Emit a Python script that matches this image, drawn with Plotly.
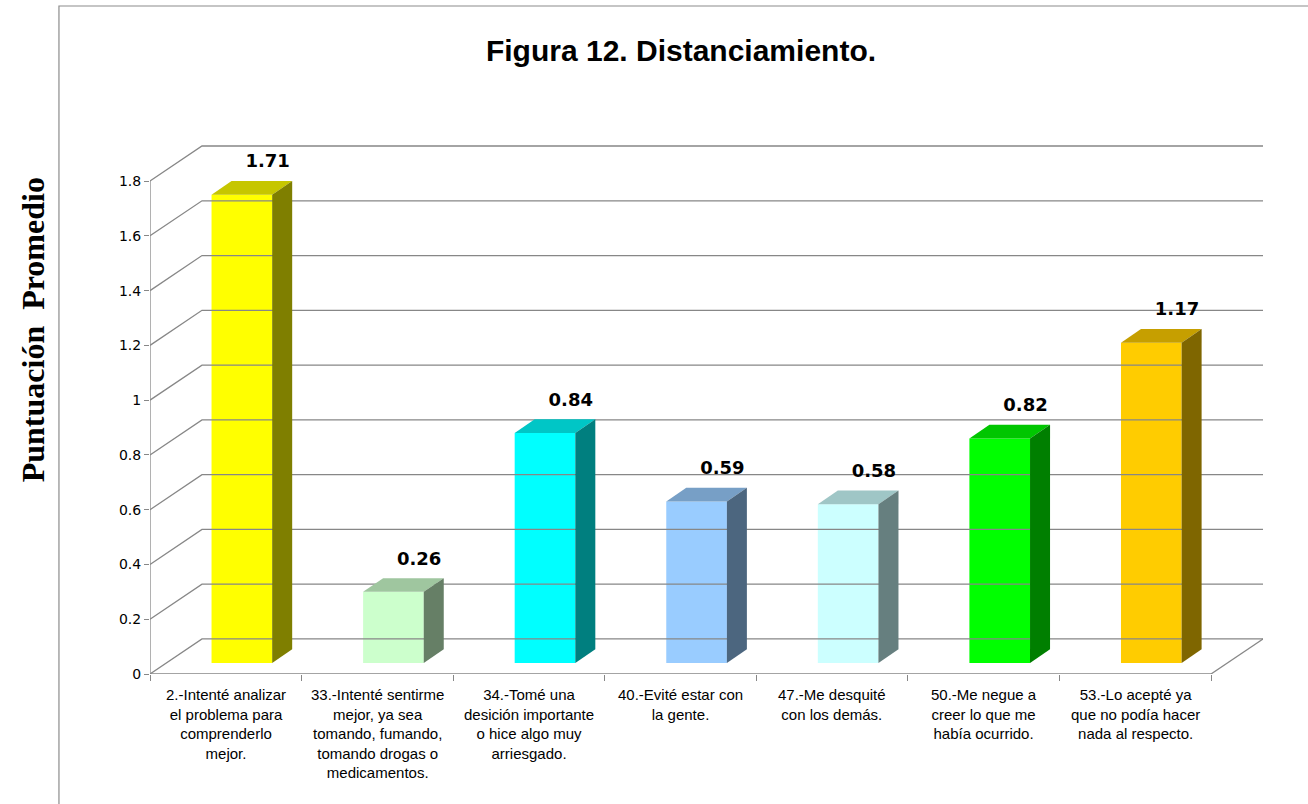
import plotly.graph_objects as go

# ---- data -------------------------------------------------------------
categories = [
    "2.-Intenté analizar<br>el problema para<br>comprenderlo<br>mejor.",
    "33.-Intenté sentirme<br>mejor, ya sea<br>tomando, fumando,<br>tomando drogas o<br>medicamentos.",
    "34.-Tomé una<br>desición importante<br>o hice algo muy<br>arriesgado.",
    "40.-Evité estar con<br>la gente.",
    "47.-Me desquité<br>con los demás.",
    "50.-Me negue a<br>creer lo que me<br>había ocurrido.",
    "53.-Lo acepté ya<br>que no podía hacer<br>nada al respecto.",
]
scores = [1.71, 0.26, 0.84, 0.59, 0.58, 0.82, 1.17]
y_ticks = [0, 0.2, 0.4, 0.6, 0.8, 1.0, 1.2, 1.4, 1.6, 1.8]
y_tick_text = ["0", "0.2", "0.4", "0.6", "0.8", "1", "1.2", "1.4", "1.6", "1.8"]

# ---- style ------------------------------------------------------------
bar_colors = ["#FFFF00", "#CCFFCC", "#00FFFF", "#99CCFF", "#CCFFFF", "#00FF00", "#FFCC00"]
GRID = "#878787"

# pseudo-3D projection, expressed in axis units
WALL_DX, WALL_DY = 0.343, 0.128   # depth of floor and side wall
BAR_FX, BAR_FY = 0.106, 0.040     # bar front face set back from the front edge
BAR_DX, BAR_DY = 0.132, 0.050     # depth of each bar
BAR_W = 0.40


def shade(hex_color, k):
    h = hex_color.lstrip("#")
    r, g, b = (int(h[i:i + 2], 16) for i in (0, 2, 4))
    return "rgb({},{},{})".format(int(r * k), int(g * k), int(b * k))


n = len(categories)
y_top = y_ticks[-1]

fig = go.Figure()

# back wall gridlines with the diagonals on the left wall
gx, gy = [], []
for t in y_ticks:
    gx += [0, WALL_DX, n + WALL_DX, None]
    gy += [t, t + WALL_DY, t + WALL_DY, None]
# right edge of the floor
gx += [n, n + WALL_DX, None]
gy += [0, WALL_DY, None]
# front value axis and front floor edge
gx += [0, 0, n]
gy += [y_top, 0, 0]
fig.add_trace(go.Scatter(x=gx, y=gy, mode="lines",
                         line=dict(color=GRID, width=1.3),
                         hoverinfo="skip", showlegend=False))

# top and side faces of every bar
for i, (v, c) in enumerate(zip(scores, bar_colors)):
    xc = i + 0.5 + BAR_FX
    x0, x1 = xc - BAR_W / 2, xc + BAR_W / 2
    yb, yt = BAR_FY, BAR_FY + v
    fig.add_trace(go.Scatter(
        x=[x0, x1, x1 + BAR_DX, x0 + BAR_DX, x0],
        y=[yt, yt, yt + BAR_DY, yt + BAR_DY, yt],
        mode="lines", fill="toself", fillcolor=shade(c, 0.78),
        line=dict(width=0), hoverinfo="skip", showlegend=False))
    fig.add_trace(go.Scatter(
        x=[x1, x1 + BAR_DX, x1 + BAR_DX, x1, x1],
        y=[yb, yb + BAR_DY, yt + BAR_DY, yt, yb],
        mode="lines", fill="toself", fillcolor=shade(c, 0.5),
        line=dict(width=0), hoverinfo="skip", showlegend=False))

# value labels above the bars
fig.add_trace(go.Scatter(
    x=[i + 0.5 + BAR_FX + 0.17 for i in range(n)],
    y=[v + BAR_FY + BAR_DY + 0.066 for v in scores],
    mode="text", text=["{:.2f}".format(v) for v in scores],
    textposition="middle center",
    textfont=dict(family="DejaVu Sans", size=18, color="#000000", weight="bold"),
    hoverinfo="skip", showlegend=False))

# front faces of the bars
fig.add_trace(go.Bar(
    x=[i + 0.5 + BAR_FX for i in range(n)], y=scores, base=BAR_FY,
    width=BAR_W, marker=dict(color=bar_colors, line=dict(width=0)),
    hoverinfo="skip", showlegend=False))

# category labels under the floor
for i, lab in enumerate(categories):
    fig.add_annotation(x=i + 0.5, y=0, xref="x", yref="y", text=lab,
                       showarrow=False, xanchor="center", yanchor="top",
                       yshift=-10, align="center",
                       font=dict(family="Liberation Sans", size=15, color="#000000"))

# value axis title
fig.add_annotation(x=-0.105, y=0.599, xref="paper", yref="paper",
                   text="<b>Puntuación&nbsp;&nbsp;Promedio</b>", textangle=-90,
                   showarrow=False, xanchor="center", yanchor="middle",
                   font=dict(family="Liberation Serif", size=32, color="#000000"))

# chart area frame
fig.add_shape(type="rect", xref="paper", yref="paper",
              x0=-0.0818, x1=1.3, y0=-0.5, y1=1.1638,
              line=dict(color="#8C8C8C", width=1.2), fillcolor="rgba(0,0,0,0)")

fig.update_layout(
    width=1308, height=804,
    margin=dict(l=150, r=45, t=100, b=130, autoexpand=False),
    paper_bgcolor="white", plot_bgcolor="white",
    barmode="overlay",
    title=dict(text="<b>Figura 12. Distanciamiento.</b>",
               x=681 / 1308, y=1 - 50 / 804, xref="container", yref="container",
               xanchor="center", yanchor="middle",
               font=dict(family="Liberation Sans", size=30, color="#000000")),
    xaxis=dict(range=[0, n + WALL_DX], tickvals=list(range(n + 1)),
               showticklabels=False, ticks="outside", ticklen=6,
               tickcolor=GRID, tickwidth=1.3,
               showgrid=False, zeroline=False, showline=False, fixedrange=True),
    yaxis=dict(range=[0, 2.096], tickvals=y_ticks, ticktext=y_tick_text,
               ticks="outside", ticklen=5, tickcolor=GRID, tickwidth=1.3,
               tickfont=dict(family="DejaVu Sans", size=14, color="#000000"),
               showgrid=False, zeroline=False, showline=False, fixedrange=True),
)

fig.write_html("out.html")
